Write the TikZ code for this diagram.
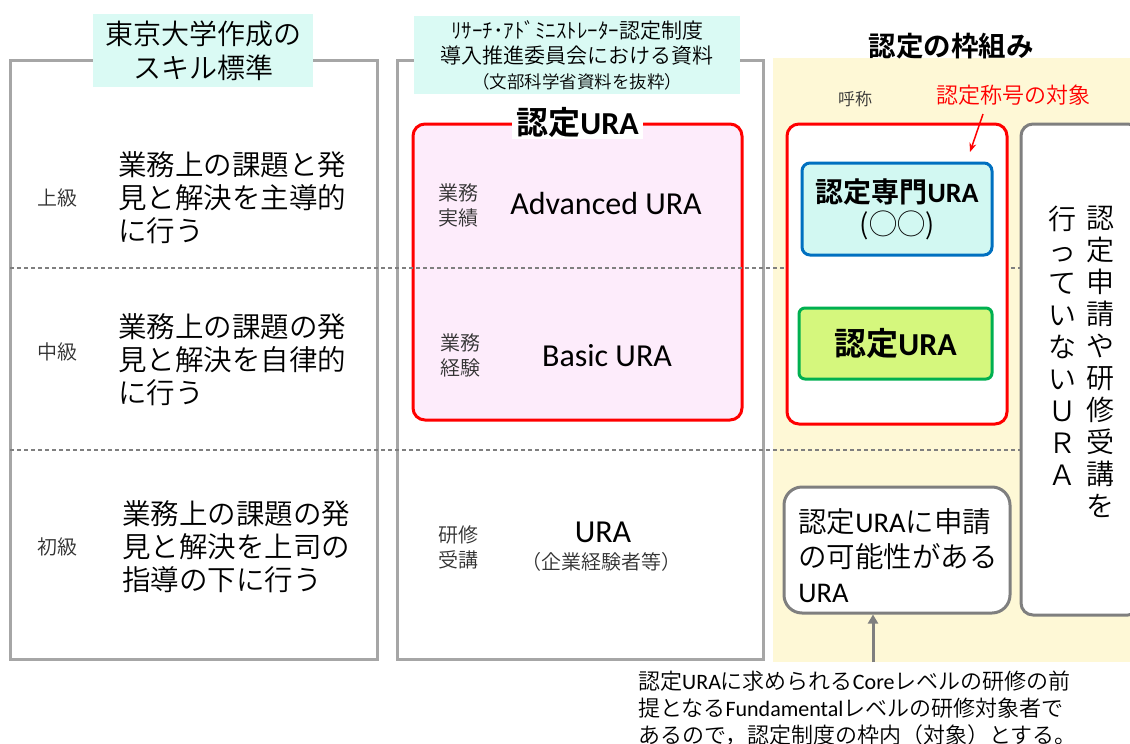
\documentclass[tikz,border=0pt]{standalone}
\usepackage{fontspec}
\IfFontExistsTF{Noto Sans CJK JP DemiLight}
  {\setmainfont{Noto Sans CJK JP DemiLight}[BoldFont={Noto Sans CJK JP Bold}]}
  {\setmainfont{Noto Sans CJK JP}}
\newfontfamily\latfont{Carlito}
\newcommand\lat[1]{{\latfont #1}}
\newcommand\fs[2]{\fontsize{#1}{#2}\selectfont}
\usetikzlibrary{arrows.meta}

\definecolor{panelgray}{RGB}{166,166,166}
\definecolor{boxgray}{RGB}{127,127,127}
\definecolor{titlecyan}{RGB}{218,250,244}
\definecolor{pinkfill}{RGB}{253,236,251}
\definecolor{yellowbg}{RGB}{254,248,214}
\definecolor{bluebox}{RGB}{0,112,192}
\definecolor{cyanfill}{RGB}{210,248,242}
\definecolor{greenline}{RGB}{0,176,80}
\definecolor{greenfill}{RGB}{213,247,125}
\definecolor{redline}{RGB}{255,0,0}
\definecolor{labelgray}{RGB}{50,50,50}

\begin{document}
\begin{tikzpicture}[x=1pt,y=-1pt,
  lbl/.style={inner sep=0pt, align=center},
  panelline/.style={draw=panelgray, line width=3pt},
  titlebox/.style={fill=titlecyan, inner sep=0pt, align=center},
  dashline/.style={draw=boxgray, dash pattern=on 4pt off 3pt, line width=1.2pt},
  grayrbox/.style={draw=boxgray, line width=3pt, fill=white, inner sep=0pt},
  redbox/.style={draw=redline, line width=3pt, inner sep=0pt, rounded corners=12pt},
  desc/.style={lbl, align=left, anchor=west, font={\fs{28.5}{33}}},
  small/.style={lbl, text=labelgray, font={\fs{20}{25}}},
]
\useasboundingbox (0,0) rectangle (1130,744);
\fill[white] (0,0) rectangle (1130,744);

% right yellow background
\fill[yellowbg] (773,58) rectangle (1130,662);

% panels
\draw[panelline] (10,60) rectangle (377,659);
\draw[panelline] (397,60) rectangle (763,659);

% titles
\node[titlebox, minimum width=220pt, minimum height=73pt, font={\fs{28}{34}}] (lt) at (203,50.5)
  {東京大学作成の\\スキル標準};
\node[titlebox, minimum width=326pt, minimum height=78pt, font={\fs{21}{25}}] (mt) at (577,55)
  {ﾘｻｰﾁ･ｱﾄﾞﾐﾆｽﾄﾚｰﾀｰ認定制度\\導入推進委員会における資料\\\fs{17.5}{25}（文部科学省資料を抜粋）};
\node[lbl, font={\fs{27.5}{32}\bfseries}] (rt) at (951,46) {認定の枠組み};

% pink box
\node[redbox, fill=pinkfill, minimum width=329pt, minimum height=296pt] (pink) at (577.5,272) {};

% dashed separators
\coordinate (d1L) at (10,268);
\coordinate (d1R) at (1021,268);
\coordinate (d2L) at (10,450);
\coordinate (d2R) at (1021,450);
\draw[dashline] (d1L) -- (d1R);
\draw[dashline] (d2L) -- (d2R);

\node[fill=white, inner xsep=4pt, inner ysep=1pt, font={\fs{32}{36}\bfseries}] (ph) at (pink.north) {認定\lat{URA}};

% left column
\node[small] (l1) at (57,198) {上級};
\node[small] (l2) at (57,352) {中級};
\node[small] (l3) at (57,547) {初級};
\node[desc] (s1) at (118,198) {業務上の課題と発\\見と解決を主導的\\に行う};
\node[desc] (s2) at (118,360) {業務上の課題の発\\見と解決を自律的\\に行う};
\node[desc] (s3) at (122,547) {業務上の課題の発\\見と解決を上司の\\指導の下に行う};

% middle column
\node[small] (m1l) at (458,205) {業務\\実績};
\node[lbl, font={\fs{32}{36}\latfont}] (m1) at (606,204) {Advanced URA};
\node[small] (m2l) at (460,355) {業務\\経験};
\node[lbl, font={\fs{32}{36}\latfont}] (m2) at (607,356) {Basic URA};
\node[small] (m3l) at (458,547) {研修\\受講};
\node[lbl, font={\fs{32}{36}\latfont}] (m3) at (603,532) {URA};
\node[lbl, text=labelgray, font={\fs{20}{22}}] (m3b) at (601,562) {（企業経験者等）};

% right column
\node[lbl, text=labelgray, font={\fs{17}{20}}] (yobi) at (855,99) {呼称};
\node[lbl, text=redline, font={\fs{22}{26}}] (redlab) at (1013,95) {認定称号の対象};
\node[redbox, fill=white, minimum width=220pt, minimum height=300pt] (rbox) at (897,274) {};
\coordinate (redtip) at (970,152);
\draw[redline, line width=1.5pt, -{Stealth[length=9pt,width=7pt]}] ([shift={(-30,19)}]redlab.center) -- (redtip);

\node[draw=bluebox, fill=cyanfill, line width=3pt, rounded corners=8pt, minimum width=190pt, minimum height=92pt, inner sep=0pt, align=center, font={\fs{28}{32}}] (blue) at (897,209)
  {\bfseries 認定専門\lat{URA}\\(◯◯)};
\node[draw=greenline, fill=greenfill, line width=3pt, rounded corners=6pt, minimum width=193pt, minimum height=71pt, inner sep=0pt, font={\fs{32}{36}\bfseries}] (green) at (895.5,343.5)
  {認定\lat{URA}};

\node[grayrbox, rounded corners=18pt, minimum width=226pt, minimum height=126pt] (gbox) at (897,550) {};
\node[lbl, align=left, font={\fs{28.5}{35}}] (gtext) at (898,556)
  {認定\lat{URA}に申請\\の可能性がある\\\lat{URA}};

\node[grayrbox, rounded corners=12pt, minimum width=119pt, minimum height=491pt] (vbox) at (1080.5,369.5) {};
\node[lbl, font={\fs{28}{32}}] (vt1) at (1100,362) {認\\定\\申\\請\\や\\研\\修\\受\\講\\を};
\node[lbl, font={\fs{28}{32}}] (vt2) at (1062,346) {行\\っ\\て\\い\\な\\い\\Ｕ\\Ｒ\\Ａ};

% gray arrow and note
\coordinate (ga) at (873,662);
\draw[boxgray, line width=3pt, -{Triangle[length=9pt,width=10pt]}] (ga) -- (ga |- gbox.south);
\node[lbl, align=left, anchor=west, font={\fs{22}{27}}] (note) at (638,708)
  {認定\lat{URA}に求められる\lat{Core}レベルの研修の前\\提となる\lat{Fundamental}レベルの研修対象者で\\あるので，認定制度の枠内（対象）とする。};
\end{tikzpicture}
\end{document}
